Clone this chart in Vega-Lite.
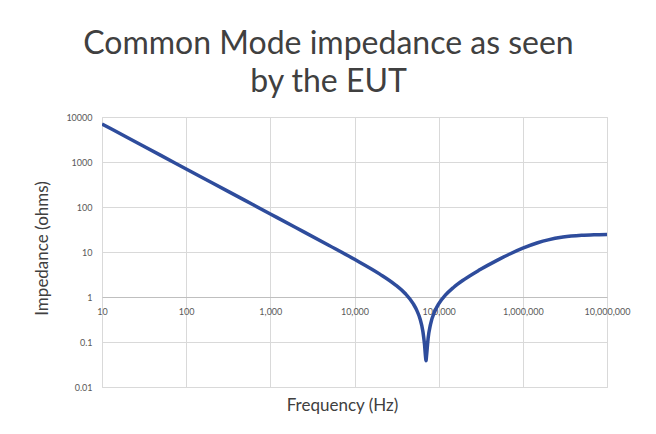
{
  "$schema": "https://vega.github.io/schema/vega-lite/v6.json",
  "autosize": "none",
  "width": 505,
  "height": 270,
  "padding": {"left": 102, "top": 117, "right": 49, "bottom": 47},
  "background": "white",
  "title": {
    "text": ["Common Mode impedance as seen", "by the EUT"],
    "anchor": "middle",
    "frame": "group",
    "dx": -26,
    "offset": 14,
    "font": "Lato",
    "fontSize": 32,
    "fontWeight": "normal",
    "color": "#404040",
    "lineHeight": 38
  },
  "data": {
    "values": [
      {"frequency": 10, "impedance": 7011},
      {"frequency": 20, "impedance": 3506},
      {"frequency": 50, "impedance": 1402},
      {"frequency": 100, "impedance": 701.1},
      {"frequency": 200, "impedance": 350.6},
      {"frequency": 500, "impedance": 140.2},
      {"frequency": 1000, "impedance": 70.1},
      {"frequency": 2000, "impedance": 35.03},
      {"frequency": 5000, "impedance": 13.95},
      {"frequency": 10000, "impedance": 6.87},
      {"frequency": 20000, "impedance": 3.226},
      {"frequency": 30000, "impedance": 1.917},
      {"frequency": 40000, "impedance": 1.193},
      {"frequency": 50000, "impedance": 0.702},
      {"frequency": 55000, "impedance": 0.504},
      {"frequency": 60000, "impedance": 0.33},
      {"frequency": 65000, "impedance": 0.17},
      {"frequency": 68000, "impedance": 0.086},
      {"frequency": 70000, "impedance": 0.0444},
      {"frequency": 70700, "impedance": 0.0385},
      {"frequency": 71000, "impedance": 0.040},
      {"frequency": 72000, "impedance": 0.0526},
      {"frequency": 75000, "impedance": 0.1224},
      {"frequency": 80000, "impedance": 0.2473},
      {"frequency": 90000, "impedance": 0.483},
      {"frequency": 100000, "impedance": 0.70},
      {"frequency": 120000, "impedance": 1.095},
      {"frequency": 150000, "impedance": 1.629},
      {"frequency": 200000, "impedance": 2.437},
      {"frequency": 300000, "impedance": 3.915},
      {"frequency": 500000, "impedance": 6.611},
      {"frequency": 700000, "impedance": 9.037},
      {"frequency": 1000000, "impedance": 12.16},
      {"frequency": 1500000, "impedance": 16.05},
      {"frequency": 2000000, "impedance": 18.63},
      {"frequency": 3000000, "impedance": 21.47},
      {"frequency": 5000000, "impedance": 23.55},
      {"frequency": 7000000, "impedance": 24.23},
      {"frequency": 10000000, "impedance": 24.61}
    ]
  },
  "mark": {"type": "line", "color": "#2e4c9c", "strokeWidth": 3.5, "interpolate": "monotone", "clip": true},
  "encoding": {
    "x": {
      "field": "frequency",
      "type": "quantitative",
      "scale": {"type": "log", "domain": [10, 10000000], "nice": false},
      "axis": {
        "title": "Frequency (Hz)",
        "values": [10, 100, 1000, 10000, 100000, 1000000, 10000000],
        "format": ",d",
        "offset": -90,
        "ticks": false,
        "domain": true,
        "domainColor": "#bfbfbf",
        "domainWidth": 1,
        "labelPadding": 10,
        "labelFlush": false,
        "labelOverlap": false,
        "titleX": 240,
        "titleY": 100,
        "titleBaseline": "top"
      }
    },
    "y": {
      "field": "impedance",
      "type": "quantitative",
      "scale": {"type": "log", "domain": [0.01, 10000], "nice": false},
      "axis": {
        "title": "Impedance (ohms)",
        "values": [0.01, 0.1, 1, 10, 100, 1000, 10000],
        "format": "~g",
        "ticks": false,
        "domain": false,
        "labelPadding": 10,
        "labelFlush": false,
        "labelOverlap": false,
        "titleX": -60,
        "titleY": 131,
        "titleAnchor": "middle",
        "titleBaseline": "middle"
      }
    }
  },
  "config": {
    "view": {"stroke": "#d9d9d9", "strokeWidth": 1},
    "axis": {
      "grid": true,
      "gridColor": "#d9d9d9",
      "gridWidth": 1,
      "labelFont": "Lato",
      "labelFontSize": 9,
      "labelColor": "#595959",
      "titleFont": "Lato",
      "titleFontSize": 17,
      "titleFontWeight": "normal",
      "titleColor": "#404040"
    }
  }
}
